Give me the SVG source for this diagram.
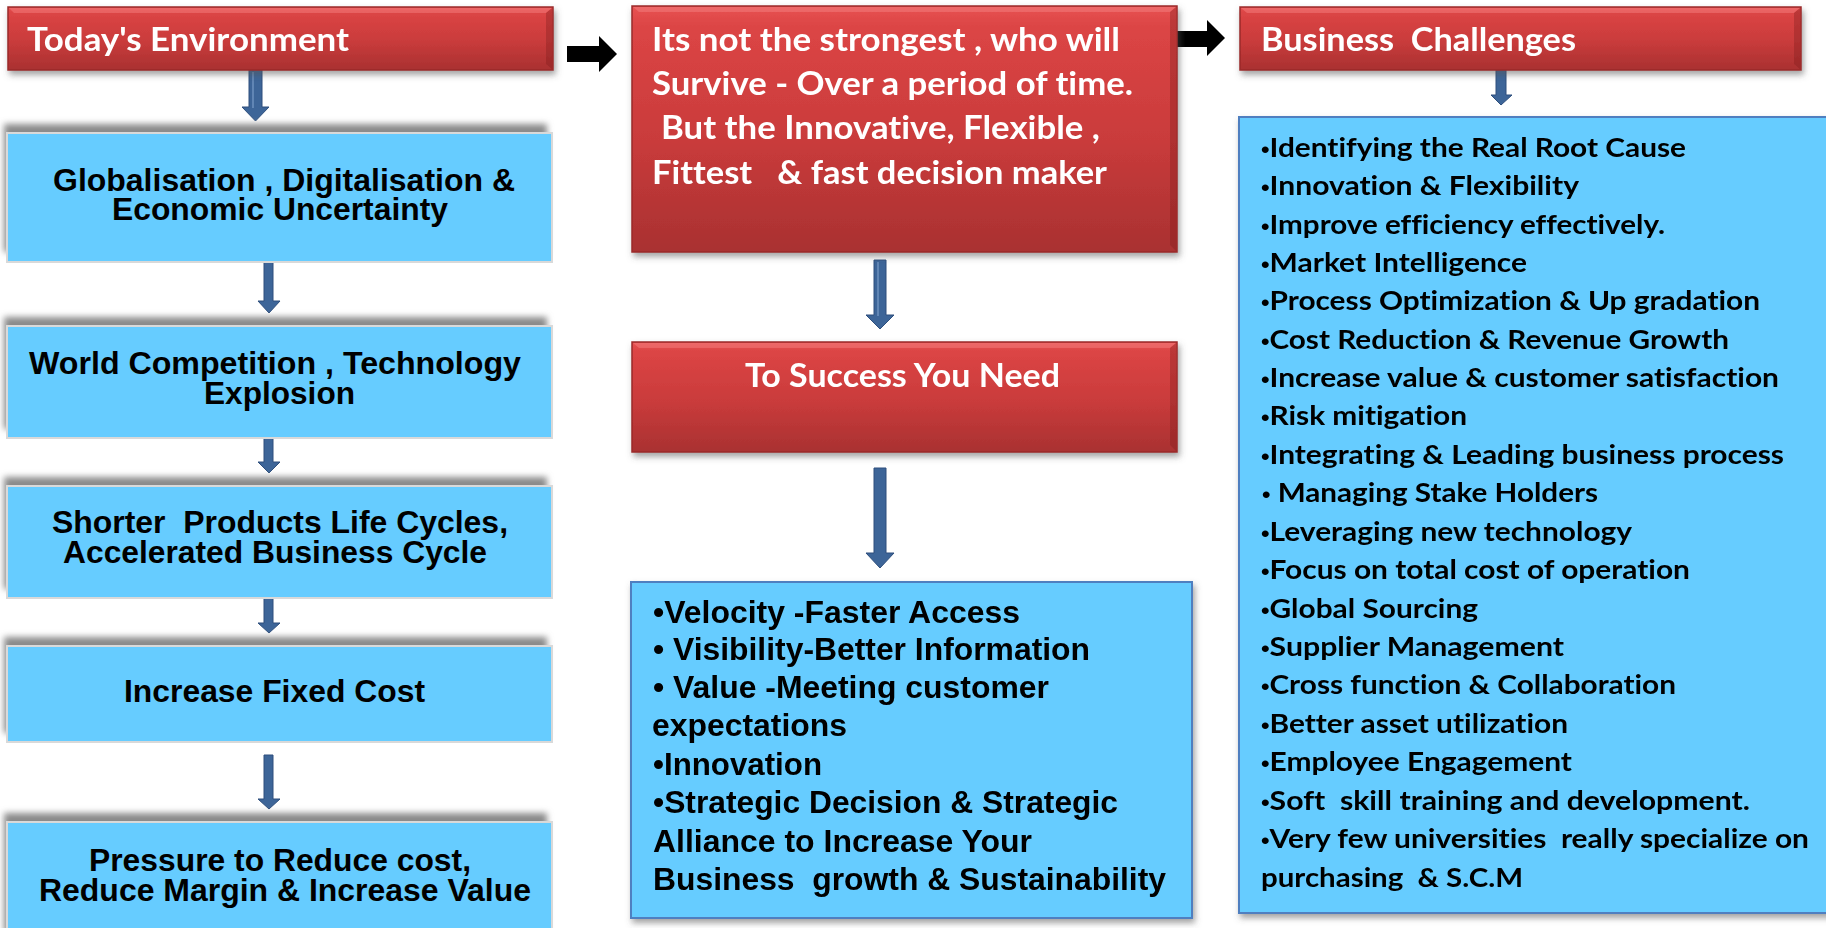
<svg xmlns="http://www.w3.org/2000/svg" width="1826" height="928" viewBox="0 0 1826 928">
<style>
.cal{font-family:Lato,"Liberation Sans",sans-serif;font-weight:700;white-space:pre;font-variant-ligatures:none}
.nar{font-family:"Liberation Sans",Arial,sans-serif;font-weight:700;white-space:pre;fill:#000}
.wt{fill:#fff;font-size:32px}
.rt{fill:#000;font-size:27px}
.lt{font-size:31px}
.bu{font-family:"Liberation Sans",Arial,sans-serif;font-size:22px}
.red{fill:url(#redg);stroke:#9A2A2A;stroke-width:1.5}
.blue{fill:#66CCFF;stroke:#D9D9D9;stroke-width:2}
.blue2{fill:#66CCFF;stroke:#4F7FC0;stroke-width:2}
.shd{fill:#8a8a8a;filter:url(#bl)}
.arr{fill:#3D6598;stroke:#2E4F7D;stroke-width:1}
.hl{fill:none;stroke:#7A9CC8;stroke-width:1.2}
.blk{fill:#000}
.hi{fill:#F27A7A;opacity:.55}
.lo{fill:#7E1E1E;opacity:.35}
</style>
<defs>
<linearGradient id="redg" x1="0" y1="0" x2="0" y2="1">
<stop offset="0" stop-color="#E85353"/>
<stop offset="0.08" stop-color="#DC4545"/>
<stop offset="0.55" stop-color="#C93B3B"/>
<stop offset="1" stop-color="#A93131"/>
</linearGradient>
<filter id="bl" x="-10%" y="-30%" width="120%" height="160%"><feGaussianBlur stdDeviation="3"/></filter>
<filter id="ds" x="-5%" y="-10%" width="115%" height="130%"><feDropShadow dx="2" dy="4" stdDeviation="3" flood-color="#555" flood-opacity="0.55"/></filter>
</defs>
<rect width="1826" height="928" fill="#fff"/>

<g id="connectors">
<path class="arr" d="M249 70H262V107H269L255.5 121L242 107H249Z"/>
<path class="hl" d="M253 72V108"/>
<path class="arr" d="M264 262H273V301H280L269 313L258 301H264Z"/>
<path class="arr" d="M264 438H273V462H280L269 473L258 462H264Z"/>
<path class="arr" d="M264 598H273V623H280L269 633L258 623H264Z"/>
<path class="arr" d="M264 755H273V799H280L269 809L258 799H264Z"/>
<path class="arr" d="M874 260H886V315H894L880 329L866 315H874Z"/>
<path class="hl" d="M878 262V316"/>
<path class="arr" d="M874 468H886V553H894L880 568L866 553H874Z"/>
<path class="arr" d="M1496 70H1506V95H1512L1501 105L1491 95H1496Z"/>
<path class="blk" d="M567 46H599V36L617 54L599 72V62H567Z"/>
<path class="blk" d="M1176 31H1207V20L1225 38L1207 56V47H1176Z"/>
</g>

<g id="todays-environment" filter="url(#ds)">
<rect class="red" x="8" y="7" width="545" height="63"/>
<path class="hi" d="M9 8H552L546 13H14Z"/>
<path class="lo" d="M552 8V69L546 64V13Z"/>
<text class="cal wt" x="27" y="51" textLength="322" lengthAdjust="spacingAndGlyphs">Today's Environment</text>
</g>

<g id="globalisation">
<rect class="shd" x="4" y="124" width="543" height="128"/>
<rect class="blue" x="7" y="133" width="545" height="129"/>
<text class="nar lt" x="53" y="191" textLength="462" lengthAdjust="spacingAndGlyphs">Globalisation , Digitalisation &amp;</text>
<text class="nar lt" x="112" y="220" textLength="336" lengthAdjust="spacingAndGlyphs">Economic Uncertainty</text>
</g>

<g id="world-competition">
<rect class="shd" x="4" y="317" width="543" height="112"/>
<rect class="blue" x="7" y="326" width="545" height="112"/>
<text class="nar lt" x="29" y="374" textLength="492" lengthAdjust="spacingAndGlyphs">World Competition , Technology</text>
<text class="nar lt" x="204" y="404" textLength="151" lengthAdjust="spacingAndGlyphs">Explosion</text>
</g>

<g id="shorter-cycles">
<rect class="shd" x="4" y="477" width="543" height="112"/>
<rect class="blue" x="7" y="486" width="545" height="112"/>
<text class="nar lt" x="52" y="533" textLength="456" lengthAdjust="spacingAndGlyphs">Shorter  Products Life Cycles,</text>
<text class="nar lt" x="63" y="563" textLength="424" lengthAdjust="spacingAndGlyphs">Accelerated Business Cycle</text>
</g>

<g id="fixed-cost">
<rect class="shd" x="4" y="637" width="543" height="96"/>
<rect class="blue" x="7" y="646" width="545" height="96"/>
<text class="nar lt" x="124" y="702" textLength="301" lengthAdjust="spacingAndGlyphs">Increase Fixed Cost</text>
</g>

<g id="pressure">
<rect class="shd" x="4" y="813" width="543" height="120"/>
<rect class="blue" x="7" y="822" width="545" height="112"/>
<text class="nar lt" x="89" y="871" textLength="382" lengthAdjust="spacingAndGlyphs">Pressure to Reduce cost,</text>
<text class="nar lt" x="39" y="901" textLength="492" lengthAdjust="spacingAndGlyphs">Reduce Margin &amp; Increase Value</text>
</g>

<g id="strongest" filter="url(#ds)">
<rect class="red" x="632" y="6" width="545" height="246"/>
<path class="hi" d="M633 7H1176L1170 12H639Z"/>
<path class="lo" d="M1176 7V251L1170 245V12Z"/>
<text class="cal wt" x="652" y="51" textLength="468" lengthAdjust="spacingAndGlyphs">Its not the strongest , who will</text>
<text class="cal wt" x="652" y="95" textLength="481" lengthAdjust="spacingAndGlyphs">Survive - Over a period of time.</text>
<text class="cal wt" x="661" y="139" textLength="439" lengthAdjust="spacingAndGlyphs">But the Innovative, Flexible ,</text>
<text class="cal wt" x="652" y="184" textLength="455" lengthAdjust="spacingAndGlyphs">Fittest   &amp; fast decision maker</text>
</g>

<g id="to-success" filter="url(#ds)">
<rect class="red" x="632" y="342" width="545" height="110"/>
<path class="hi" d="M633 343H1176L1170 348H639Z"/>
<path class="lo" d="M1176 343V451L1170 445V348Z"/>
<text class="cal wt" x="745" y="387" textLength="315" lengthAdjust="spacingAndGlyphs">To Success You Need</text>
</g>

<g id="success-needs" filter="url(#ds)">
<rect class="blue2" x="631" y="582" width="561" height="336"/>
<text class="nar lt" x="653" y="623" textLength="367" lengthAdjust="spacingAndGlyphs">•Velocity -Faster Access</text>
<text class="nar lt" x="653" y="660" textLength="437" lengthAdjust="spacingAndGlyphs">• Visibility-Better Information</text>
<text class="nar lt" x="653" y="698" textLength="396" lengthAdjust="spacingAndGlyphs">• Value -Meeting customer</text>
<text class="nar lt" x="652" y="736" textLength="195" lengthAdjust="spacingAndGlyphs">expectations</text>
<text class="nar lt" x="653" y="775" textLength="169" lengthAdjust="spacingAndGlyphs">•Innovation</text>
<text class="nar lt" x="653" y="813" textLength="465" lengthAdjust="spacingAndGlyphs">•Strategic Decision &amp; Strategic</text>
<text class="nar lt" x="653" y="852" textLength="379" lengthAdjust="spacingAndGlyphs">Alliance to Increase Your</text>
<text class="nar lt" x="653" y="890" textLength="513" lengthAdjust="spacingAndGlyphs">Business  growth &amp; Sustainability</text>
</g>

<g id="business-challenges" filter="url(#ds)">
<rect class="red" x="1240" y="7" width="561" height="63"/>
<path class="hi" d="M1241 8H1800L1794 13H1247Z"/>
<path class="lo" d="M1800 8V69L1794 64V13Z"/>
<text class="cal wt" x="1261" y="51" textLength="315" lengthAdjust="spacingAndGlyphs">Business  Challenges</text>
</g>

<g id="challenges-list" filter="url(#ds)">
<rect class="blue2" x="1239" y="117" width="600" height="796"/>
<text class="cal rt" x="1261" y="157" textLength="425" lengthAdjust="spacingAndGlyphs"><tspan class="bu">•</tspan>Identifying the Real Root Cause</text>
<text class="cal rt" x="1261" y="195" textLength="318" lengthAdjust="spacingAndGlyphs"><tspan class="bu">•</tspan>Innovation &amp; Flexibility</text>
<text class="cal rt" x="1261" y="234" textLength="404" lengthAdjust="spacingAndGlyphs"><tspan class="bu">•</tspan>Improve efficiency effectively.</text>
<text class="cal rt" x="1261" y="272" textLength="266" lengthAdjust="spacingAndGlyphs"><tspan class="bu">•</tspan>Market Intelligence</text>
<text class="cal rt" x="1261" y="310" textLength="499" lengthAdjust="spacingAndGlyphs"><tspan class="bu">•</tspan>Process Optimization &amp; Up gradation</text>
<text class="cal rt" x="1261" y="349" textLength="468" lengthAdjust="spacingAndGlyphs"><tspan class="bu">•</tspan>Cost Reduction &amp; Revenue Growth</text>
<text class="cal rt" x="1261" y="387" textLength="518" lengthAdjust="spacingAndGlyphs"><tspan class="bu">•</tspan>Increase value &amp; customer satisfaction</text>
<text class="cal rt" x="1261" y="425" textLength="206" lengthAdjust="spacingAndGlyphs"><tspan class="bu">•</tspan>Risk mitigation</text>
<text class="cal rt" x="1261" y="464" textLength="523" lengthAdjust="spacingAndGlyphs"><tspan class="bu">•</tspan>Integrating &amp; Leading business process</text>
<text class="cal rt" x="1262" y="502" textLength="336" lengthAdjust="spacingAndGlyphs"><tspan class="bu">•</tspan> Managing Stake Holders</text>
<text class="cal rt" x="1261" y="541" textLength="371" lengthAdjust="spacingAndGlyphs"><tspan class="bu">•</tspan>Leveraging new technology</text>
<text class="cal rt" x="1261" y="579" textLength="429" lengthAdjust="spacingAndGlyphs"><tspan class="bu">•</tspan>Focus on total cost of operation</text>
<text class="cal rt" x="1261" y="618" textLength="217" lengthAdjust="spacingAndGlyphs"><tspan class="bu">•</tspan>Global Sourcing</text>
<text class="cal rt" x="1261" y="656" textLength="303" lengthAdjust="spacingAndGlyphs"><tspan class="bu">•</tspan>Supplier Management</text>
<text class="cal rt" x="1261" y="694" textLength="415" lengthAdjust="spacingAndGlyphs"><tspan class="bu">•</tspan>Cross function &amp; Collaboration</text>
<text class="cal rt" x="1261" y="733" textLength="307" lengthAdjust="spacingAndGlyphs"><tspan class="bu">•</tspan>Better asset utilization</text>
<text class="cal rt" x="1261" y="771" textLength="311" lengthAdjust="spacingAndGlyphs"><tspan class="bu">•</tspan>Employee Engagement</text>
<text class="cal rt" x="1261" y="810" textLength="489" lengthAdjust="spacingAndGlyphs"><tspan class="bu">•</tspan>Soft  skill training and development.</text>
<text class="cal rt" x="1261" y="848" textLength="548" lengthAdjust="spacingAndGlyphs"><tspan class="bu">•</tspan>Very few universities  really specialize on</text>
<text class="cal rt" x="1261" y="887" textLength="262" lengthAdjust="spacingAndGlyphs">purchasing  &amp; S.C.M</text>
</g>
</svg>
